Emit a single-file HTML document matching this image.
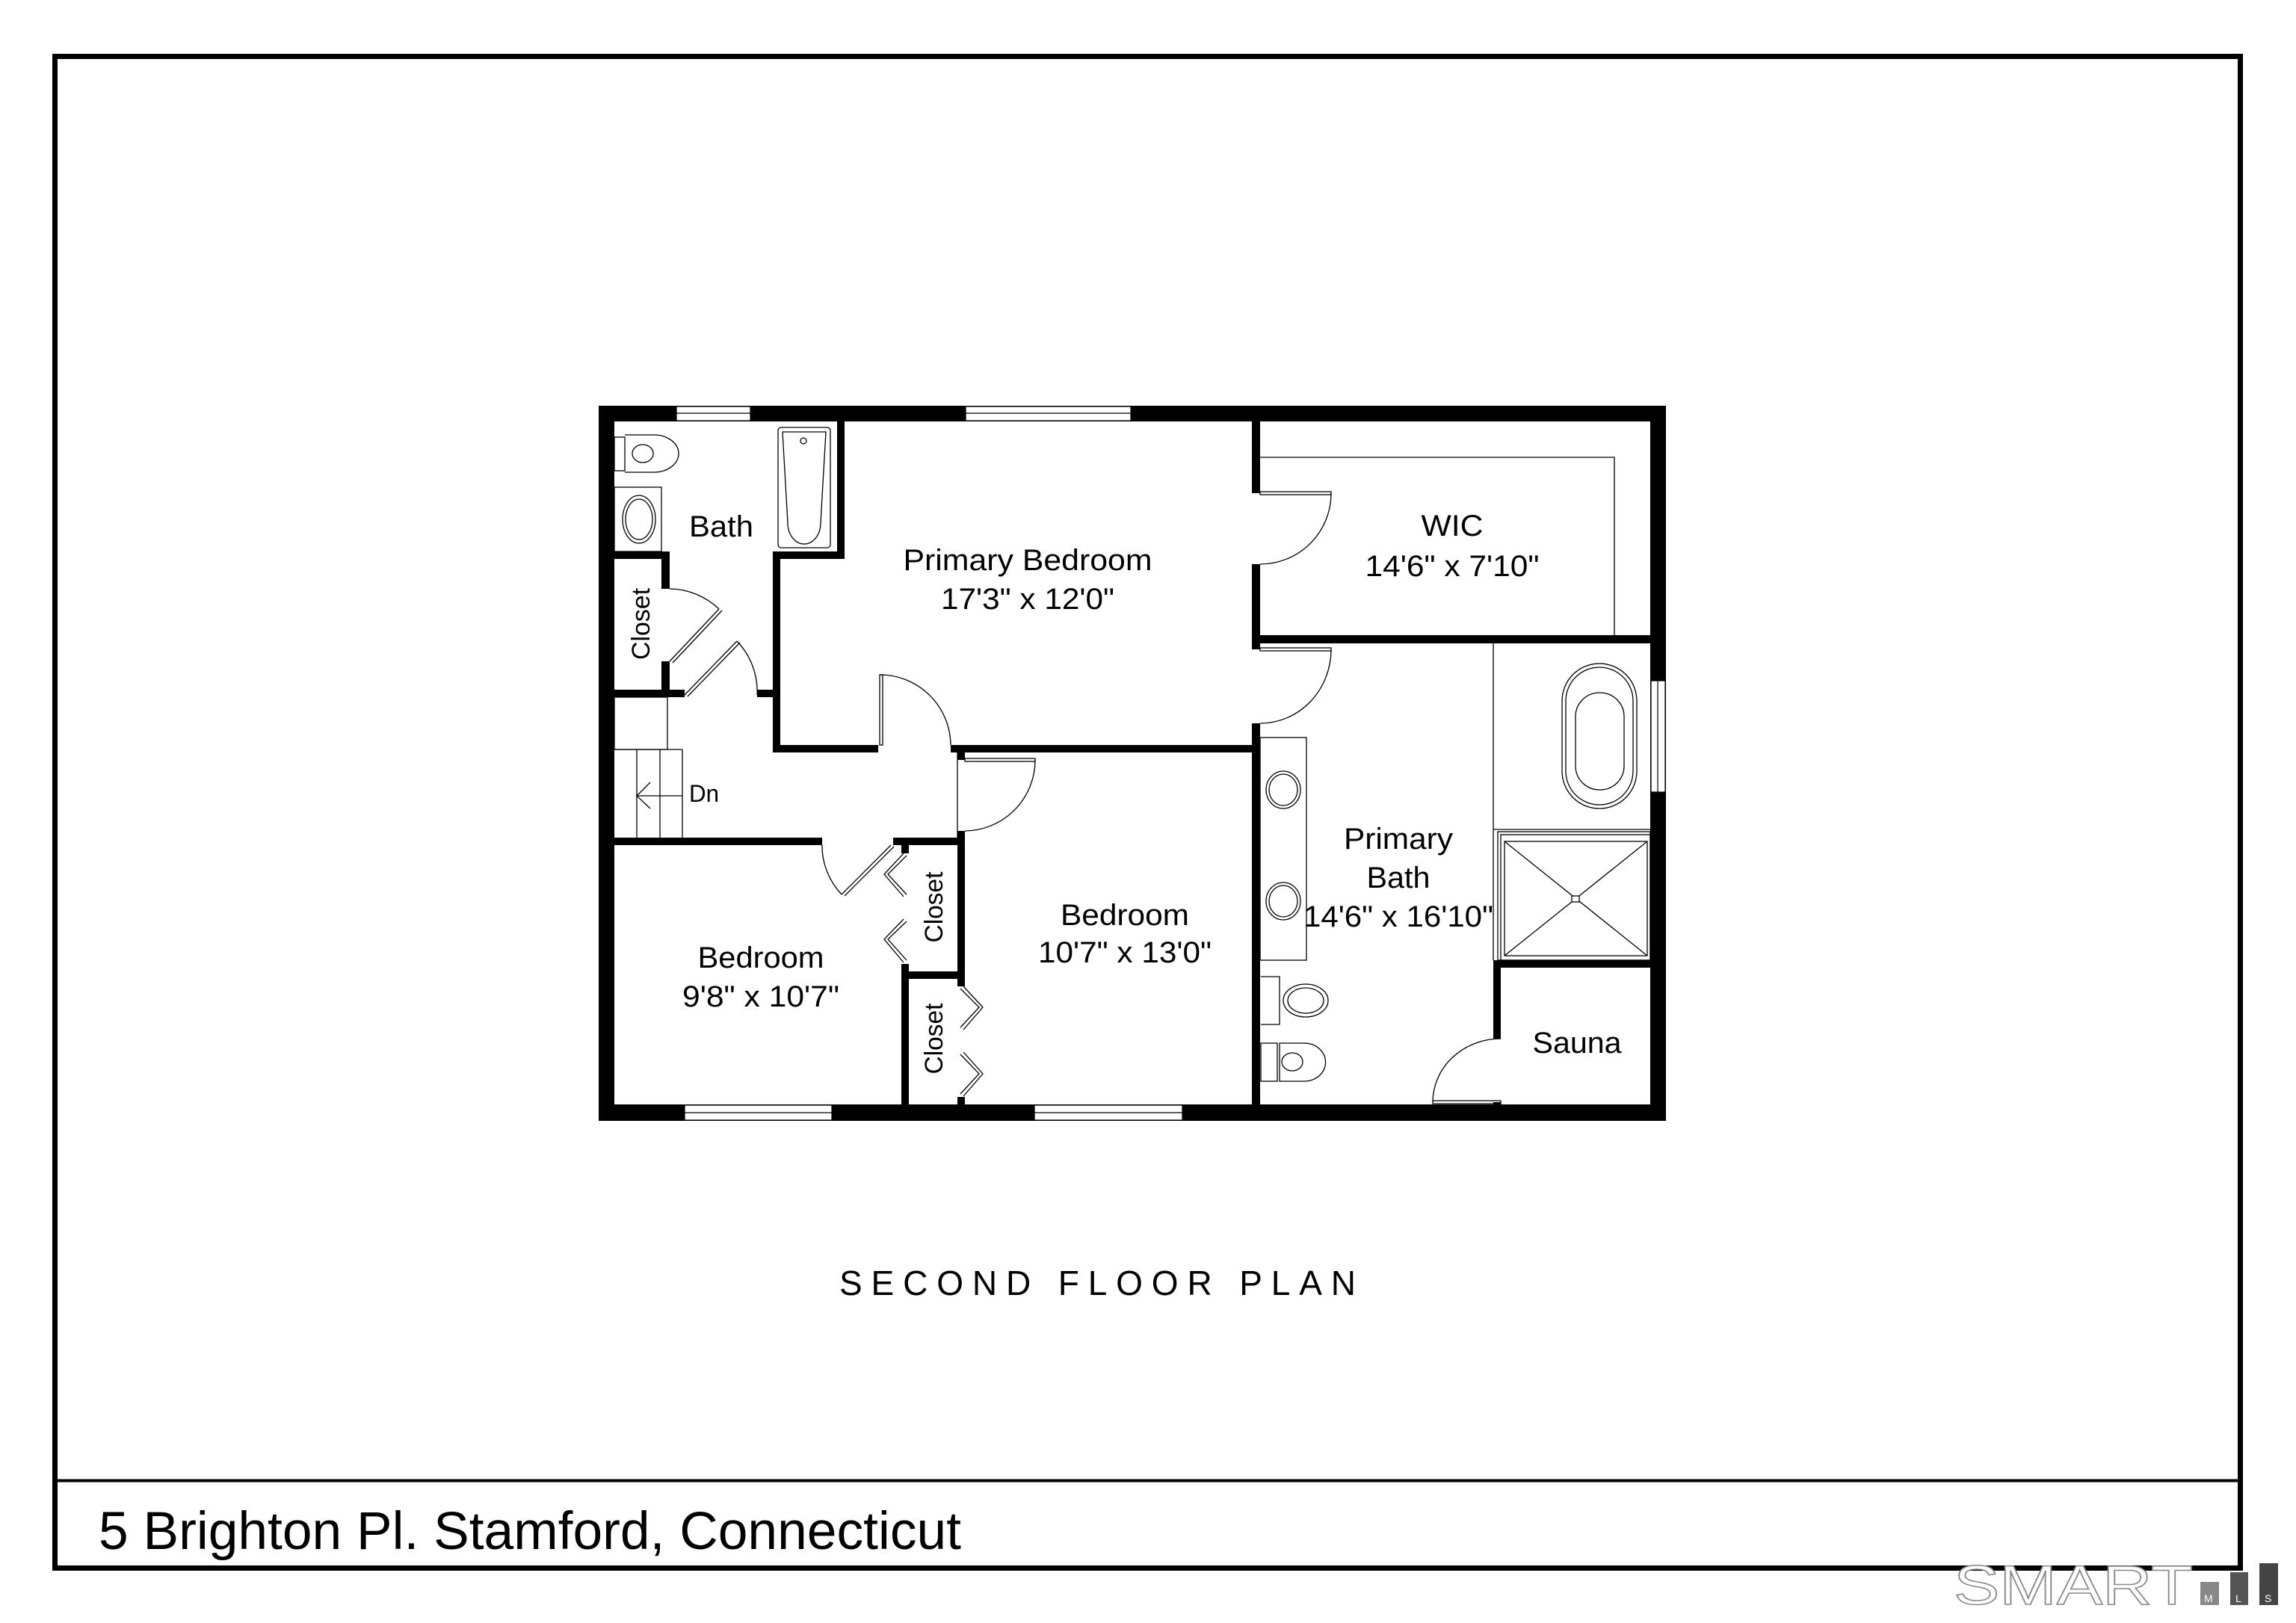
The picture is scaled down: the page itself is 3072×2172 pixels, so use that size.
<!DOCTYPE html>
<html><head><meta charset="utf-8"><style>
html,body{margin:0;padding:0;background:#fff;}
svg{display:block;}
text{font-family:"Liberation Sans",Arial,sans-serif;fill:#000;}
</style></head><body>
<svg width="3072" height="2172" viewBox="0 0 3072 2172" xmlns="http://www.w3.org/2000/svg">
<rect width="3072" height="2172" fill="#fff"/>
<rect x="73.5" y="75.5" width="2924" height="2023" fill="none" stroke="#000" stroke-width="7"/>
<line x1="73" y1="1981.5" x2="2998" y2="1981.5" stroke="#000" stroke-width="4"/>
<text x="132" y="2073" font-size="71" textLength="1154" lengthAdjust="spacingAndGlyphs">5 Brighton Pl. Stamford, Connecticut</text>
<text x="1123" y="1733" font-size="46" textLength="705" lengthAdjust="spacing" letter-spacing="14">SECOND FLOOR PLAN</text>

<g>
<text x="2614" y="2147" font-size="74" style="fill:#fff;stroke:#888;stroke-width:1.5" textLength="320" lengthAdjust="spacingAndGlyphs">SMART</text>
<rect x="2944" y="2117" width="25" height="31" fill="#888"/>
<rect x="2984" y="2104" width="24" height="44" fill="#555"/>
<rect x="3023" y="2092" width="25" height="56" fill="#444"/>
<text x="2949" y="2144" font-size="14" style="fill:#fff">M</text>
<text x="2991" y="2144" font-size="14" style="fill:#fff">L</text>
<text x="3030" y="2144" font-size="14" style="fill:#fff">S</text>
</g>

<g fill="#000">
<rect x="801" y="543" width="1428" height="21"/>
<rect x="801" y="1478" width="1428" height="22"/>
<rect x="801" y="543" width="21" height="957"/>
<rect x="2208" y="543" width="21" height="957"/>
<rect x="1120" y="563" width="10" height="185"/>
<rect x="1034" y="738" width="96" height="10"/>
<rect x="1034" y="738" width="10" height="269"/>
<rect x="1034" y="997" width="141" height="10"/>
<rect x="1272" y="997" width="413" height="10"/>
<rect x="1675" y="563" width="11" height="97"/>
<rect x="1675" y="755" width="11" height="114"/>
<rect x="1675" y="968" width="11" height="520"/>
<rect x="1675" y="850" width="540" height="11"/>
<rect x="801" y="738" width="95" height="10"/>
<rect x="885" y="738" width="11" height="50"/>
<rect x="885" y="885" width="11" height="48"/>
<rect x="801" y="923" width="115" height="10"/>
<rect x="1013" y="923" width="30" height="10"/>
<rect x="801" y="1121" width="299" height="10"/>
<rect x="1195" y="1121" width="96" height="10"/>
<rect x="1281" y="1000" width="10" height="17"/>
<rect x="1281" y="1112" width="10" height="208"/>
<rect x="1281" y="1468" width="10" height="20"/>
<rect x="1206" y="1121" width="10" height="21"/>
<rect x="1206" y="1290" width="10" height="198"/>
<rect x="1206" y="1300" width="85" height="10"/>
<rect x="1998" y="1285" width="215" height="10"/>
<rect x="1998" y="1285" width="10" height="105"/>
<rect x="1998" y="1475" width="10" height="10"/>
</g>

<g fill="#fff" stroke="#000" stroke-width="1.2">
<rect x="905" y="544" width="99" height="19"/>
<line x1="905" y1="553" x2="1004" y2="553"/>
<rect x="1292" y="544" width="221" height="19"/>
<line x1="1292" y1="553" x2="1513" y2="553"/>
<rect x="916" y="1479" width="197" height="20"/>
<line x1="916" y1="1489" x2="1113" y2="1489"/>
<rect x="1384" y="1479" width="198" height="20"/>
<line x1="1384" y1="1489" x2="1582" y2="1489"/>
<rect x="2209" y="911" width="19" height="149"/>
<line x1="2218" y1="911" x2="2218" y2="1060"/>
</g>

<g fill="none" stroke="#000" stroke-width="1.3">
<rect x="822" y="585" width="14" height="45"/>
<path d="M836 582 H875 A33 25 0 0 1 875 632 H836"/>
<ellipse cx="860" cy="607" rx="14" ry="12"/>
<rect x="822" y="652" width="63" height="86"/>
<ellipse cx="855" cy="695" rx="22" ry="32"/>
<ellipse cx="855" cy="695" rx="18" ry="27"/>
<rect x="1041" y="572" width="70" height="161" rx="4"/>
<path d="M1047 578 H1105 L1098 700 A22 28 0 0 1 1054 700 Z"/>
<circle cx="1075" cy="590" r="4"/>
<path d="M896 788 A97 97 0 0 1 962 815"/>
<line x1="896" y1="885" x2="962" y2="815"/>
<line x1="900" y1="887" x2="966" y2="817"/>
<path d="M986 858 A97 97 0 0 1 1013 930"/>
<line x1="916" y1="930" x2="986" y2="858"/>
<line x1="920" y1="932" x2="990" y2="860"/>
<rect x="822" y="933" width="71" height="70"/>
<line x1="822" y1="1003" x2="913" y2="1003"/>
<line x1="852" y1="1003" x2="852" y2="1121"/>
<line x1="883" y1="1003" x2="883" y2="1121"/>
<line x1="913" y1="1003" x2="913" y2="1121"/>
<line x1="852" y1="1065" x2="913" y2="1065"/>
<polyline points="870,1047 852,1065 870,1082"/>
<path d="M1177 903 A95 95 0 0 1 1272 997"/>
<rect x="1177" y="903" width="4" height="94"/>
<path d="M1385 1017 A95 95 0 0 1 1291 1112"/>
<rect x="1291" y="1015" width="94" height="4"/>
<line x1="1281" y1="1007" x2="1281" y2="1121"/>
<path d="M1100 1131 A95 95 0 0 0 1126 1197"/>
<line x1="1192" y1="1131" x2="1126" y2="1197"/>
<line x1="1196" y1="1133" x2="1130" y2="1199"/>
<polyline points="1209,1142 1183,1170 1209,1200"/>
<polyline points="1213,1145 1188,1170 1213,1197"/>
<polyline points="1209,1230 1183,1257 1209,1288"/>
<polyline points="1213,1233 1188,1257 1213,1285"/>
<polyline points="1289,1320 1315,1348 1289,1378"/>
<polyline points="1285,1323 1310,1348 1285,1375"/>
<polyline points="1289,1408 1315,1437 1289,1467"/>
<polyline points="1285,1411 1310,1437 1285,1464"/>
<polyline points="1686,612 2160,612 2160,850"/>
<path d="M1781 660 A95 95 0 0 1 1686 755"/>
<rect x="1686" y="658" width="95" height="4"/>
<path d="M1781 869 A95 99 0 0 1 1686 968"/>
<rect x="1686" y="867" width="95" height="4"/>
<rect x="1686" y="987" width="62" height="298"/>
<ellipse cx="1717" cy="1057" rx="23" ry="25"/>
<ellipse cx="1717" cy="1057" rx="19" ry="21"/>
<ellipse cx="1717" cy="1206" rx="23" ry="25"/>
<ellipse cx="1717" cy="1206" rx="19" ry="21"/>
<path d="M1687 1307 H1712 V1371 H1687"/>
<ellipse cx="1747" cy="1339" rx="30" ry="22"/>
<ellipse cx="1747" cy="1339" rx="24" ry="17"/>
<rect x="1687" y="1396" width="22" height="51"/>
<path d="M1712 1396 H1745 A28 25 0 0 1 1745 1447 H1712 Z"/>
<ellipse cx="1729" cy="1421" rx="14" ry="12"/>
<line x1="1998" y1="861" x2="1998" y2="1285"/>
<line x1="1998" y1="1110" x2="2208" y2="1110"/>
<rect x="2090" y="888" width="100" height="194" rx="50"/>
<rect x="2095" y="893" width="90" height="184" rx="45"/>
<rect x="2108" y="927" width="65" height="130" rx="32"/>
<rect x="2004" y="1113" width="204" height="172"/>
<rect x="2008" y="1117" width="200" height="168"/>
<rect x="2013" y="1126" width="191" height="153"/>
<line x1="2013" y1="1126" x2="2204" y2="1279"/>
<line x1="2204" y1="1126" x2="2013" y2="1279"/>
<rect x="2103" y="1199" width="10" height="8" fill="#fff"/>
<path d="M1917 1475 A91 85 0 0 1 2008 1390"/>
<rect x="1917" y="1473" width="91" height="4"/>
</g>

<g font-size="40" text-anchor="middle">
<text x="965" y="718" textLength="86" lengthAdjust="spacingAndGlyphs">Bath</text>
<text x="1375" y="763" textLength="333" lengthAdjust="spacingAndGlyphs">Primary Bedroom</text>
<text x="1375" y="815" textLength="232" lengthAdjust="spacingAndGlyphs">17'3" x 12'0"</text>
<text x="1943" y="717" textLength="83" lengthAdjust="spacingAndGlyphs">WIC</text>
<text x="1943" y="771" textLength="233" lengthAdjust="spacingAndGlyphs">14'6" x 7'10"</text>
<text x="1871" y="1136" textLength="146" lengthAdjust="spacingAndGlyphs">Primary</text>
<text x="1871" y="1188" textLength="85" lengthAdjust="spacingAndGlyphs">Bath</text>
<text x="1871" y="1240" textLength="254" lengthAdjust="spacingAndGlyphs">14'6" x 16'10"</text>
<text x="2110" y="1409" textLength="119" lengthAdjust="spacingAndGlyphs">Sauna</text>
<text x="1018" y="1295" textLength="169" lengthAdjust="spacingAndGlyphs">Bedroom</text>
<text x="1018" y="1347" textLength="210" lengthAdjust="spacingAndGlyphs">9'8" x 10'7"</text>
<text x="1505" y="1238" textLength="172" lengthAdjust="spacingAndGlyphs">Bedroom</text>
<text x="1505" y="1288" textLength="232" lengthAdjust="spacingAndGlyphs">10'7" x 13'0"</text>
<text transform="translate(869,835) rotate(-90)" font-size="34" textLength="96" lengthAdjust="spacingAndGlyphs">Closet</text>
<text transform="translate(1261,1214) rotate(-90)" font-size="34" textLength="95" lengthAdjust="spacingAndGlyphs">Closet</text>
<text transform="translate(1261,1390) rotate(-90)" font-size="34" textLength="95" lengthAdjust="spacingAndGlyphs">Closet</text>
</g>
<text x="922" y="1073" font-size="32" textLength="40" lengthAdjust="spacingAndGlyphs">Dn</text>
</svg>
</body></html>
